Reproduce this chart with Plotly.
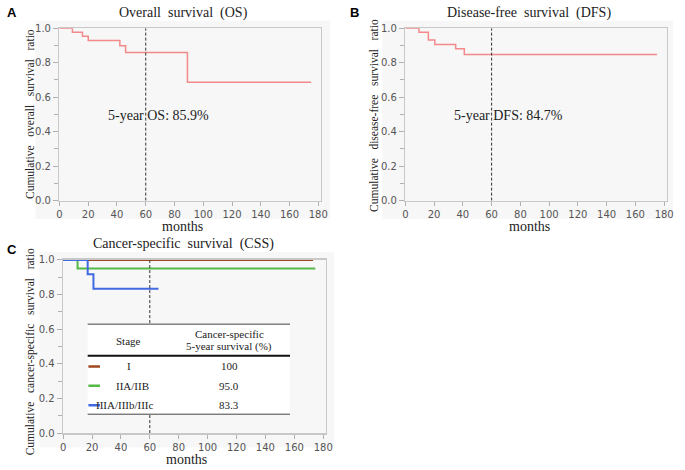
import plotly.graph_objects as go

# ---------------- data ----------------
os_months = [0, 9, 16, 20, 42, 46, 89, 175]
os_surv = [1.0, 0.976, 0.953, 0.929, 0.898, 0.859, 0.687, 0.687]

dfs_months = [0, 9.5, 16, 20.5, 35, 41, 175]
dfs_surv = [1.0, 0.977, 0.932, 0.906, 0.880, 0.847, 0.847]

css_I_months = [0, 173]
css_I_surv = [1.0, 1.0]
css_II_months = [0, 10, 174.5]
css_II_surv = [1.0, 0.950, 0.950]
css_III_months = [0, 17, 21, 66]
css_III_surv = [1.0, 0.917, 0.833, 0.833]

stage_names = ["I", "IIA/IIB", "IIIA/IIIb/IIIc"]
stage_5yr = ["100", "95.0", "83.3"]
stage_colors = ["#a0461e", "#55b947", "#4169e1"]

x_ticks = [0, 20, 40, 60, 80, 100, 120, 140, 160, 180]
y_ticks = [0.0, 0.2, 0.4, 0.6, 0.8, 1.0]

W, H = 685, 470
def px(x): return x / W
def py(y): return 1 - y / H

SERIF = "Liberation Serif"
SANS = "DejaVu Sans"
PINK = "#f4898b"

fig = go.Figure()

fig.add_trace(go.Scatter(x=os_months, y=os_surv, mode="lines", line=dict(color=PINK, width=1.5, shape="hv"),
                         xaxis="x", yaxis="y", showlegend=False))
fig.add_trace(go.Scatter(x=dfs_months, y=dfs_surv, mode="lines", line=dict(color=PINK, width=1.5, shape="hv"),
                         xaxis="x2", yaxis="y2", showlegend=False))
for xs, ys, c in [(css_I_months, css_I_surv, stage_colors[0]),
                  (css_II_months, css_II_surv, stage_colors[1]),
                  (css_III_months, css_III_surv, stage_colors[2])]:
    fig.add_trace(go.Scatter(x=xs, y=ys, mode="lines", line=dict(color=c, width=2, shape="hv"),
                             xaxis="x3", yaxis="y3", showlegend=False))

def xax(domain, anchor):
    return dict(domain=domain, anchor=anchor, range=[0, 181.8], tickvals=x_ticks,
                showline=True, mirror=True, linecolor="#c8c8c8", linewidth=1.5,
                ticks="outside", ticklen=4, tickcolor="#b0b0b0", showgrid=False, zeroline=False,
                tickfont=dict(family=SANS, size=10, color="#555"))

def yax(domain, anchor, layer="above traces"):
    return dict(domain=domain, anchor=anchor, range=[0, 1.0], tickvals=y_ticks, tickformat=".1f",
                showline=True, mirror=True, linecolor="#c8c8c8", linewidth=1.5,
                ticks="outside", ticklen=5, tickcolor="#b0b0b0", showgrid=False, zeroline=False,
                minor=dict(dtick=0.1, ticks="outside", ticklen=4, tickcolor="#b0b0b0"),
                tickfont=dict(family=SANS, size=10, color="#555"), layer=layer)

fig.update_layout(
    width=W, height=H, margin=dict(l=0, r=0, t=0, b=0),
    paper_bgcolor="white", plot_bgcolor="white",
    xaxis=xax([px(57.3), px(322.6)], "y"),
    yaxis=yax([py(199.3), py(22.7)], "x"),
    xaxis2=xax([px(408.3), px(673.6)], "y2"),
    yaxis2=yax([py(199.3), py(22.7)], "x2"),
    xaxis3=xax([px(61), px(327.6)], "y3"),
    yaxis3=yax([py(437.3), py(260)], "x3", layer="below traces"),
)

shapes = []
# light gray panel backgrounds
for (x0, y0, x1, y1) in [(33, 15, 332, 218), (385, 15, 680, 218), (37, 252, 336, 452)]:
    shapes.append(dict(type="rect", xref="paper", yref="paper", x0=px(x0), x1=px(x1), y0=py(y1), y1=py(y0),
                       fillcolor="#f7f7f7", line=dict(width=0), layer="below"))
# 5-year dashed lines
for xr, yr in [("x", "y"), ("x2", "y2"), ("x3", "y3")]:
    shapes.append(dict(type="line", xref=xr, yref=yr, x0=60, x1=60, y0=0, y1=1,
                       line=dict(color="#333", width=1, dash="3px,2px"), layer="above"))

# table in panel C
tx0, tx1 = 17, 157
shapes.append(dict(type="rect", xref="x3", yref="y3", x0=tx0, x1=tx1, y0=0.109, y1=0.629,
                   fillcolor="white", line=dict(width=0), layer="above"))
shapes.append(dict(type="line", xref="x3", yref="y3", x0=tx0, x1=tx1, y0=0.629, y1=0.629,
                   line=dict(color="#444", width=1), layer="above"))
shapes.append(dict(type="line", xref="x3", yref="y3", x0=tx0, x1=tx1, y0=0.447, y1=0.447,
                   line=dict(color="#111", width=2), layer="above"))
shapes.append(dict(type="line", xref="x3", yref="y3", x0=tx0, x1=tx1, y0=0.109, y1=0.109,
                   line=dict(color="#444", width=1), layer="above"))
row_y = [0.385, 0.273, 0.160]
for i, c in enumerate(stage_colors):
    shapes.append(dict(type="line", xref="x3", yref="y3", x0=17.5, x1=25.5, y0=row_y[i], y1=row_y[i],
                       line=dict(color=c, width=2.5), layer="above"))

ann = []
def txt(x, y, s, size, family=SERIF, xref="paper", yref="paper", angle=0, color="#222", xanchor="center"):
    ann.append(dict(x=x, y=y, xref=xref, yref=yref, text=s, showarrow=False, textangle=angle,
                    font=dict(family=family, size=size, color=color), xanchor=xanchor, yanchor="middle"))

NB = "\u00a0"
# panel letters
txt(px(9), py(7), "<b>A</b>", 13, family="Liberation Sans", color="#000")
txt(px(357), py(7), "<b>B</b>", 13, family="Liberation Sans", color="#000")
txt(px(9), py(249), "<b>C</b>", 13, family="Liberation Sans", color="#000")
# titles
txt(px(183), py(7), f"Overall{NB} survival{NB} (OS)", 14)
txt(px(534), py(7), f"Disease-free{NB} survival{NB} (DFS)", 14)
txt(px(183), py(244), f"Cancer-specific{NB} survival{NB} (CSS)", 14)
# x titles
txt(px(182.5), py(225.5), "months", 14)
txt(px(534), py(225.5), "months", 14)
txt(px(186), py(464.5), "months", 14)
# y titles
txt(px(28), py(111), f"Cumulative{NB}{NB} overall{NB}{NB} survival{NB}{NB} ratio", 11.5, angle=-90)
txt(px(377), py(112), f"Cumulative{NB}{NB} disease-free{NB}{NB} survival{NB}{NB} ratio", 11.5, angle=-90)
txt(px(28), py(354), f"Cumulative{NB}{NB} cancer-specific{NB}{NB} survival{NB}{NB} ratio", 11.5, angle=-90)
# 5-year annotations
txt(68.7, 0.494, "5-year OS: 85.9%", 14, xref="x", yref="y")
txt(71.5, 0.494, "5-year DFS: 84.7%", 14, xref="x2", yref="y2")
# table text
txt(45.5, 0.532, "Stage", 11, xref="x3", yref="y3")
txt(115, 0.572, "Cancer-specific", 11, xref="x3", yref="y3")
txt(115, 0.499, "5-year survival (%)", 11, xref="x3", yref="y3")
stage_x = [45.5, 48, 43]
for i in range(3):
    txt(stage_x[i], row_y[i], stage_names[i], 11, xref="x3", yref="y3")
    txt(115, row_y[i], stage_5yr[i], 11, xref="x3", yref="y3")

fig.update_layout(shapes=shapes, annotations=ann, hovermode=False)
fig.write_html("out.html", config={"displayModeBar": False, "staticPlot": True},
               post_script="document.body.style.margin='0';document.body.style.padding='0';")
